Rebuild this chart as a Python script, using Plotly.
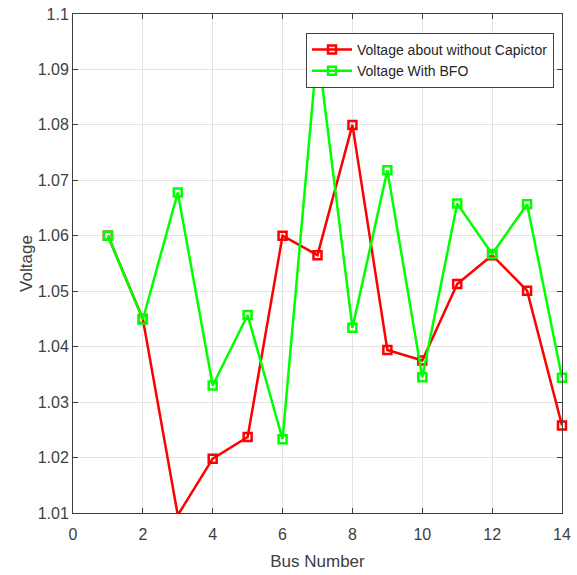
import plotly.graph_objects as go

bus = list(range(1, 15))
v_without = [1.060, 1.045, 1.0096, 1.0198, 1.0237, 1.060, 1.0565, 1.080, 1.0394, 1.0375, 1.0513, 1.0565, 1.0501, 1.0258]
v_bfo = [1.060, 1.0449, 1.0678, 1.0330, 1.0457, 1.0233, 1.094, 1.0434, 1.0718, 1.0345, 1.0658, 1.0567, 1.0657, 1.0344]
x_ticks = [0, 2, 4, 6, 8, 10, 12, 14]
y_ticks = [1.01, 1.02, 1.03, 1.04, 1.05, 1.06, 1.07, 1.08, 1.09, 1.1]
y_tick_text = ["1.01", "1.02", "1.03", "1.04", "1.05", "1.06", "1.07", "1.08", "1.09", "1.1"]

FONT = "Liberation Sans, Arial, sans-serif"

fig = go.Figure()
fig.add_trace(go.Scatter(
    x=bus, y=v_without, mode="lines+markers", name="Voltage about without Capictor",
    line=dict(color="#ff0000", width=2.5),
    marker=dict(symbol="square-open", size=8, color="#ff0000", line=dict(width=2.5, color="#ff0000")),
    cliponaxis=False,
))
fig.add_trace(go.Scatter(
    x=bus, y=v_bfo, mode="lines+markers", name="Voltage With BFO",
    line=dict(color="#00ff00", width=2.5),
    marker=dict(symbol="square-open", size=8, color="#00ff00", line=dict(width=2.5, color="#00ff00")),
    cliponaxis=False,
))

axis_common = dict(
    showline=True, linecolor="#404040", linewidth=1, mirror="ticks",
    ticks="inside", ticklen=5, tickcolor="#404040",
    showgrid=True, gridcolor="#e3e3e3", gridwidth=1,
    zeroline=False, automargin=False, ticklabeloverflow="allow",
    tickfont=dict(family=FONT, size=16, color="#404040"),
)

fig.update_layout(
    width=577, height=575,
    margin=dict(l=73, r=15, t=14, b=62),
    paper_bgcolor="white", plot_bgcolor="white",
    font=dict(family=FONT, color="#404040"),
    showlegend=True,
    legend=dict(
        x=0.4765, y=0.962, xanchor="left", yanchor="top",
        bgcolor="white", bordercolor="#404040", borderwidth=1,
        font=dict(family=FONT, size=14, color="#262626"),
        itemwidth=40, tracegroupgap=0,
    ),
    xaxis=dict(
        range=[0, 14], tickvals=x_ticks, ticklabelstandoff=7,
        title=dict(text="Bus Number", font=dict(family=FONT, size=17, color="#404040"), standoff=12),
        **axis_common,
    ),
    yaxis=dict(
        range=[1.01, 1.1], tickvals=y_ticks, ticktext=y_tick_text,
        title=dict(text="Voltage", font=dict(family=FONT, size=17, color="#404040"), standoff=0),
        **axis_common,
    ),
)

fig.write_html("out.html", config={"displayModeBar": False},
               post_script="document.body.style.margin='0px';")
